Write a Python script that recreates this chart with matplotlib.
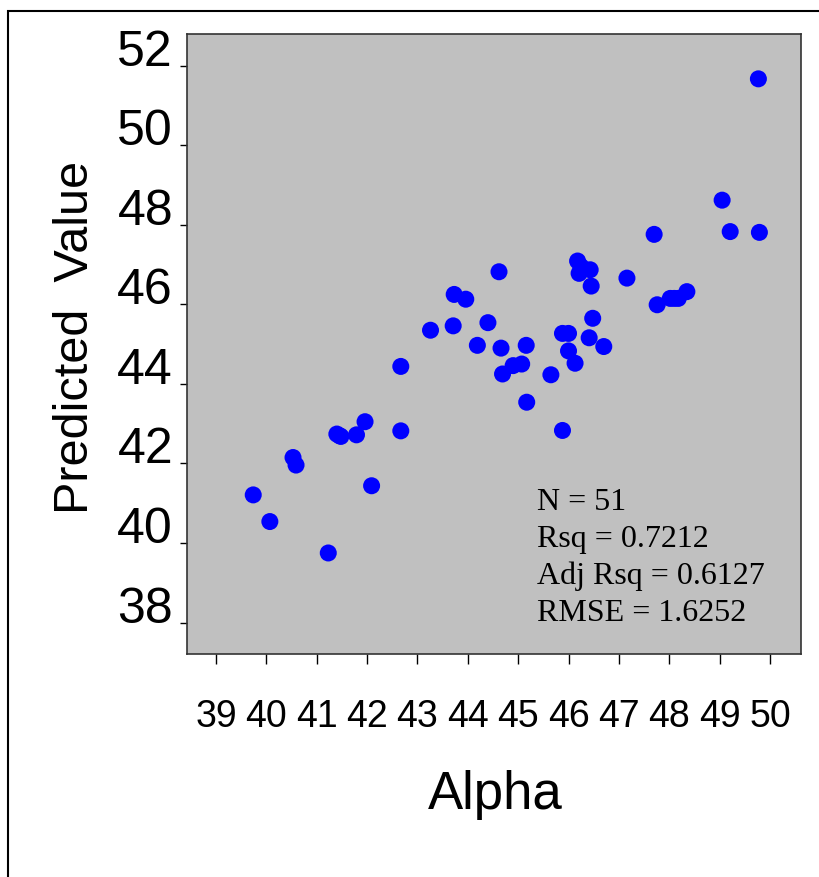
import numpy as np
import matplotlib.pyplot as plt
from matplotlib.patches import Rectangle

# values
alpha = [49.77, 49.05, 49.21, 49.79, 47.70, 46.18, 46.43, 46.21, 46.45, 47.16,
         44.62, 43.73, 43.96, 47.76, 48.02, 48.18, 48.35, 46.48, 43.26, 43.71,
         44.40, 44.19, 44.66, 45.16, 45.88, 46.00, 46.41, 46.70, 46.00, 46.13,
         44.90, 45.07, 44.69, 45.65, 42.67, 45.17, 42.67, 45.88, 41.96, 41.40,
         41.48, 41.79, 40.53, 40.59, 42.09, 39.74, 40.07, 41.23,
         46.25, 48.10, 41.45]
predicted = [51.67, 48.62, 47.83, 47.81, 47.76, 47.09, 46.87, 46.78, 46.46, 46.66,
             46.82, 46.25, 46.13, 45.99, 46.15, 46.15, 46.32, 45.65, 45.35, 45.46,
             45.54, 44.97, 44.90, 44.97, 45.27, 45.27, 45.16, 44.94, 44.83, 44.52,
             44.46, 44.50, 44.25, 44.23, 44.44, 43.54, 42.82, 42.83, 43.05, 42.74,
             42.68, 42.72, 42.15, 41.96, 41.44, 41.21, 40.54, 39.75,
             46.95, 46.15, 42.70]

xticks = list(range(39, 51))
yticks = list(range(38, 53, 2))
stats_lines = ["N = 51", "Rsq = 0.7212", "Adj Rsq = 0.6127", "RMSE = 1.6252"]

W, H = 819, 877
fig = plt.figure(figsize=(W / 100, H / 100), dpi=100)

# outer frame
fig.patches.append(Rectangle((8 / W, -0.05), 1.2, 1 - 11 / H + 0.05, transform=fig.transFigure,
                             fill=False, edgecolor='black', linewidth=1.5))

ax = fig.add_axes([186.5 / W, 1 - 654 / H, 614.2 / W, 620.5 / H])
ax.set_facecolor('#c0c0c0')
ax.scatter(alpha, predicted, s=150, color='#0000ff', edgecolors='none', zorder=3)

ax.set_xlim(38.415, 50.61)
ax.set_ylim(37.21, 52.81)
ax.set_xticks(xticks)
ax.set_yticks(yticks)
ax.set_xticklabels([str(v) for v in xticks], fontsize=27, family='Liberation Sans')
ax.set_yticklabels([str(v) for v in yticks], fontsize=36, family='Liberation Sans')
for lab in ax.get_yticklabels():
    lab.set_va('baseline')
ax.tick_params(axis='x', length=7.2, width=1, pad=25)
ax.tick_params(axis='y', length=4.7, width=1, pad=5)

for sp in ax.spines.values():
    sp.set_color('#333333')
    sp.set_linewidth(1.2)

ax.set_xlabel('Alpha', fontsize=38, family='Liberation Sans')
ax.xaxis.label.set_va('baseline')
ax.xaxis.set_label_coords(495.5 / W, 1 - 809.3 / H, transform=fig.transFigure)

ax.set_ylabel('Predicted  Value', fontsize=35, family='Liberation Sans')
ax.yaxis.label.set_va('baseline')
ax.yaxis.set_label_coords(88 / W, 1 - 337 / H, transform=fig.transFigure)

for i, line in enumerate(stats_lines):
    ax.text(0.571, 0.2321 - i * 0.0595, line, transform=ax.transAxes,
            fontsize=23, family='Liberation Serif', va='baseline', ha='left')

fig.savefig('out.png', dpi=100)
